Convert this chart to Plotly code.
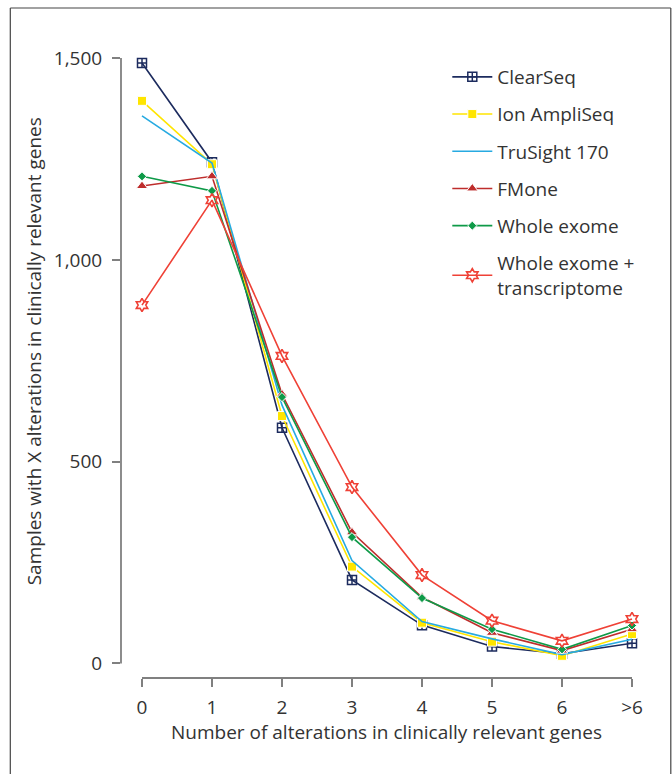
import plotly.graph_objects as go

categories = ['0', '1', '2', '3', '4', '5', '6', '>6']
clearseq = [1488, 1242, 584, 207, 95, 42, 24, 50]
ion_ampliseq = [1394, 1237, 613, 240, 101, 54, 19, 73]
trusight170 = [1357, 1240, 640, 255, 104, 61, 22, 60]
fmone = [1183, 1207, 667, 325, 164, 76, 32, 85]
whole_exome = [1207, 1171, 660, 313, 162, 85, 35, 94]
whole_exome_transcriptome = [888, 1148, 762, 437, 219, 106, 56, 110]
ytick_vals = [0, 500, 1000, 1500]
ytick_text = ['0', '500', '1,000', '1,500']

X_RANGE = [-0.3, 7.3]
Y_RANGE = [-36, 1520]

series = [
    dict(name='ClearSeq', y=clearseq, color='#1c2b5e', symbol='square-cross-open', size=9,
         mlc='#1c2b5e', mlw=1.5),
    dict(name='Ion AmpliSeq', y=ion_ampliseq, color='#ffe500', symbol='square', size=9, mlc='white', mlw=1),
    dict(name='TruSight 170', y=trusight170, color='#27aae1', symbol=None),
    dict(name='FMone', y=fmone, color='#be2d2c', symbol='triangle-up', size=10, mlc='white', mlw=1),
    dict(name='Whole exome', y=whole_exome, color='#0e9a48', symbol='diamond', size=7, mlc='white', mlw=1),
    dict(name='Whole exome +<br>transcriptome', y=whole_exome_transcriptome, color='#ef4136',
         symbol='hexagram-open', size=10, mlc='#ef4136', mlw=1.6),
]

fig = go.Figure()
for i, s in enumerate(series):
    if s['symbol'] is None:
        fig.add_trace(go.Scatter(
            x=categories, y=s['y'], name=s['name'], mode='lines',
            line=dict(color=s['color'], width=1.6), legendgroup=f'g{i}'))
    else:
        fig.add_trace(go.Scatter(
            x=categories, y=s['y'], name=s['name'], mode='lines+markers',
            line=dict(color=s['color'], width=1.6),
            marker=dict(symbol=s['symbol'], size=s['size'], color=s['color'],
                        line=dict(color=s['mlc'], width=s['mlw'])),
            legendgroup=f'g{i}'))

W, H = 672, 774
L, T = 120.7, 50
pw, ph = 532, 628
R, B = W - L - pw, H - T - ph

def px_x(px):
    return (px - L) / pw

def px_y(py):
    return (T + ph - py) / ph

def val_y(v):
    return (v - Y_RANGE[0]) / (Y_RANGE[1] - Y_RANGE[0])

def cat_x(c):
    return (c - X_RANGE[0]) / (X_RANGE[1] - X_RANGE[0])

axis_col = '#808080'
font_col = '#333333'
frame_col = '#444444'
FS = 19

frame_top, frame_left, frame_right, frame_bottom = 8, 10, 670.5, 800

fig.update_layout(
    width=W, height=H,
    margin=dict(l=L, r=R, t=T, b=B),
    paper_bgcolor='white', plot_bgcolor='white',
    font=dict(family='Open Sans, Noto Sans, sans-serif', size=FS, color=font_col),
    showlegend=True,
    legend=dict(x=px_x(447), y=px_y(58), xanchor='left', yanchor='top',
                bgcolor='rgba(0,0,0,0)', itemwidth=40, tracegroupgap=9.5,
                font=dict(size=FS, color=font_col)),
    xaxis=dict(type='category', range=X_RANGE, showgrid=False, zeroline=False,
               showline=False, ticks='outside', ticklen=8, tickwidth=1.5,
               tickcolor=axis_col, ticklabelstandoff=4,
               tickfont=dict(size=FS, color=font_col)),
    yaxis=dict(range=Y_RANGE, tickvals=ytick_vals, ticktext=ytick_text,
               showgrid=False, zeroline=False, showline=False, ticks='outside',
               ticklen=8, tickwidth=1.5, tickcolor=axis_col, ticklabelstandoff=6,
               tickfont=dict(size=FS, color=font_col)),
    shapes=[
        dict(type='line', xref='paper', yref='paper', x0=0, x1=0,
             y0=val_y(0), y1=val_y(1500), line=dict(color=axis_col, width=1.8)),
        dict(type='line', xref='paper', yref='paper', x0=cat_x(0), x1=cat_x(7),
             y0=0, y1=0, line=dict(color=axis_col, width=1.8)),
        # outer frame
        dict(type='line', xref='paper', yref='paper', x0=px_x(frame_left), x1=px_x(frame_right),
             y0=px_y(frame_top), y1=px_y(frame_top), line=dict(color=frame_col, width=1.2)),
        dict(type='line', xref='paper', yref='paper', x0=px_x(frame_left), x1=px_x(frame_left),
             y0=px_y(frame_top), y1=px_y(frame_bottom), line=dict(color=frame_col, width=1.2)),
        dict(type='line', xref='paper', yref='paper', x0=px_x(frame_right), x1=px_x(frame_right),
             y0=px_y(frame_top), y1=px_y(frame_bottom), line=dict(color=frame_col, width=1.2)),
    ],
    annotations=[
        dict(text='Samples with X alterations in clinically relevant genes',
             xref='paper', yref='paper', x=px_x(34), y=px_y(351), textangle=-90,
             showarrow=False, xanchor='center', yanchor='middle',
             font=dict(size=FS, color=font_col)),
        dict(text='Number of alterations in clinically relevant genes',
             xref='paper', yref='paper', x=px_x(386), y=px_y(732),
             showarrow=False, xanchor='center', yanchor='middle',
             font=dict(size=FS, color=font_col)),
    ],
)

fig.write_html('out.html', config={'displayModeBar': False},
               post_script="document.body.style.margin='0';document.body.style.overflow='hidden';")
